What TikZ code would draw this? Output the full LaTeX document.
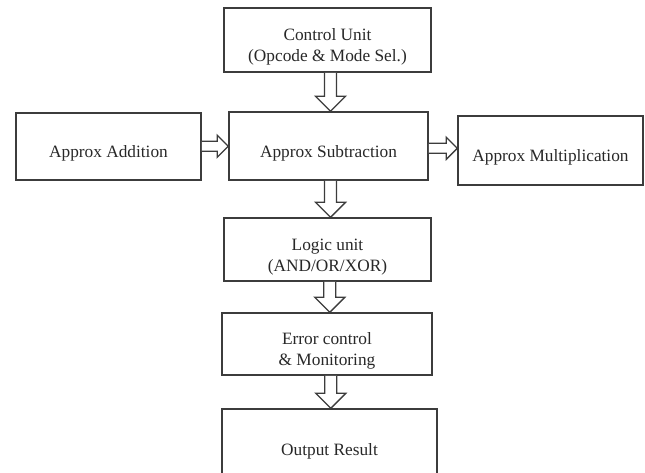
\documentclass[tikz,border=0pt]{standalone}
\usepackage{fontspec}
\setmainfont{Liberation Serif}
\usetikzlibrary{calc}

\definecolor{edge}{RGB}{60,60,60}
\definecolor{ink}{RGB}{40,40,40}

% invisible strut at the start of the first line: sets the text a little below centre
\newcommand\lowstrut{\rule{0pt}{26pt}}

\tikzset{
  unitbox/.style={draw=edge, line width=1.5pt, fill=white, inner sep=0pt,
    align=center, text=ink, font=\fontsize{17.3}{21}\selectfont},
  hollow/.style={draw=edge, line width=1.4pt, fill=white, line join=miter},
}

% hollow block arrow pointing down, between two stacked nodes
\newcommand\downarrowblock[2]{%
  \path[hollow] let \p1=(#1.south), \p2=(#2.north),
    \n1={0.5*(\x1+\x2)+2.5pt} in
    (\n1-6pt,\y1) -- (\n1-6pt,\y2+15pt) -- (\n1-15pt,\y2+15pt) -- (\n1,\y2)
    -- (\n1+15pt,\y2+15pt) -- (\n1+6pt,\y2+15pt) -- (\n1+6pt,\y1);}
% hollow block arrow pointing right, between two side-by-side nodes
\newcommand\rightarrowblock[2]{%
  \path[hollow] let \p1=(#1.east), \p2=(#2.west),
    \n1={0.5*(\y1+\y2)} in
    (\x1,\n1+5pt) -- (\x2-11pt,\n1+5pt) -- (\x2-11pt,\n1+11pt) -- (\x2,\n1)
    -- (\x2-11pt,\n1-11pt) -- (\x2-11pt,\n1-5pt) -- (\x1,\n1-5pt);}

\begin{document}
\begin{tikzpicture}[x=1pt, y=-1pt]
  \useasboundingbox (0,0) rectangle (645,472);
  \clip (0,0) rectangle (645,472);

  \node[unitbox, minimum width=207pt, minimum height=64pt] (ctrl) at (327.5,40)
    {\lowstrut Control Unit\\(Opcode \& Mode Sel.)};
  \node[unitbox, minimum width=185pt, minimum height=67pt] (add) at (108.5,146.5)
    {\lowstrut Approx Addition};
  \node[unitbox, minimum width=199pt, minimum height=68pt] (sub) at (328.5,146)
    {\lowstrut Approx Subtraction};
  \node[unitbox, minimum width=185pt, minimum height=69pt] (mult) at (550.5,150.5)
    {\lowstrut Approx Multiplication};
  \node[unitbox, minimum width=207pt, minimum height=63pt] (logic) at (327.5,249.5)
    {\lowstrut Logic unit\\(AND/OR/XOR)};
  \node[unitbox, minimum width=210pt, minimum height=62pt] (err) at (327,344)
    {\lowstrut Error control\\\& Monitoring};
  \node[unitbox, minimum width=215pt, minimum height=84pt] (out) at (329.5,451)
    {Output Result};

  \downarrowblock{ctrl}{sub}
  \rightarrowblock{add}{sub}
  \rightarrowblock{sub}{mult}
  \downarrowblock{sub}{logic}
  \downarrowblock{logic}{err}
  \downarrowblock{err}{out}
\end{tikzpicture}
\end{document}
